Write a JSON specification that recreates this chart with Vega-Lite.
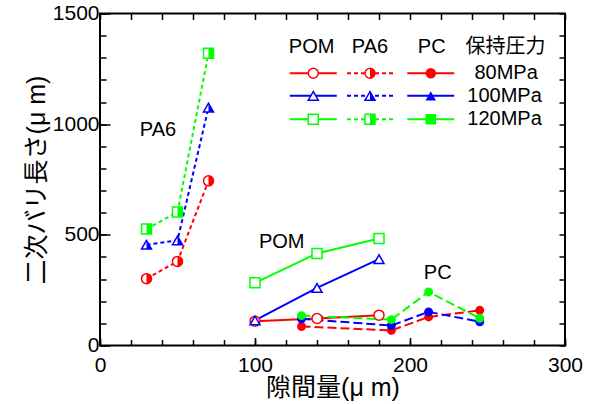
{
  "$schema": "https://vega.github.io/schema/vega-lite/v6.json",
  "width": 465,
  "height": 332,
  "autosize": {"type": "none"},
  "padding": {"left": 100, "top": 13.5, "right": 26, "bottom": 58.5},
  "background": "white",
  "config": {
    "view": {"stroke": "black", "strokeWidth": 2},
    "axis": {"domain": false, "grid": false, "tickColor": "black", "tickWidth": 1.5, "labelColor": "black", "titleColor": "black", "labelFlush": false, "labelOverlap": false}
  },
  "datasets": {
    "obs": [
      {"material": "POM", "pressure": "80MPa", "x": 100, "y": 110},
      {"material": "POM", "pressure": "80MPa", "x": 140, "y": 122},
      {"material": "POM", "pressure": "80MPa", "x": 180, "y": 137},
      {"material": "POM", "pressure": "100MPa", "x": 100, "y": 113},
      {"material": "POM", "pressure": "100MPa", "x": 140, "y": 260},
      {"material": "POM", "pressure": "100MPa", "x": 180, "y": 390},
      {"material": "POM", "pressure": "120MPa", "x": 100, "y": 283},
      {"material": "POM", "pressure": "120MPa", "x": 140, "y": 416},
      {"material": "POM", "pressure": "120MPa", "x": 180, "y": 483},
      {"material": "PA6", "pressure": "80MPa", "x": 30, "y": 302},
      {"material": "PA6", "pressure": "80MPa", "x": 50, "y": 380},
      {"material": "PA6", "pressure": "80MPa", "x": 70, "y": 744},
      {"material": "PA6", "pressure": "100MPa", "x": 30, "y": 455},
      {"material": "PA6", "pressure": "100MPa", "x": 50, "y": 475},
      {"material": "PA6", "pressure": "100MPa", "x": 70, "y": 1075},
      {"material": "PA6", "pressure": "120MPa", "x": 30, "y": 526},
      {"material": "PA6", "pressure": "120MPa", "x": 50, "y": 603},
      {"material": "PA6", "pressure": "120MPa", "x": 70, "y": 1320},
      {"material": "PC", "pressure": "80MPa", "x": 130, "y": 86},
      {"material": "PC", "pressure": "80MPa", "x": 188, "y": 68},
      {"material": "PC", "pressure": "80MPa", "x": 212, "y": 129},
      {"material": "PC", "pressure": "80MPa", "x": 245, "y": 159},
      {"material": "PC", "pressure": "100MPa", "x": 130, "y": 121},
      {"material": "PC", "pressure": "100MPa", "x": 188, "y": 90},
      {"material": "PC", "pressure": "100MPa", "x": 212, "y": 152},
      {"material": "PC", "pressure": "100MPa", "x": 245, "y": 107},
      {"material": "PC", "pressure": "120MPa", "x": 130, "y": 135},
      {"material": "PC", "pressure": "120MPa", "x": 188, "y": 117},
      {"material": "PC", "pressure": "120MPa", "x": 212, "y": 242},
      {"material": "PC", "pressure": "120MPa", "x": 245, "y": 123}
    ],
    "key": [
      {"material": "POM", "pressure": "80MPa", "x": 137.6, "y": 1230},
      {"material": "POM", "pressure": "100MPa", "x": 137.6, "y": 1128},
      {"material": "POM", "pressure": "120MPa", "x": 137.6, "y": 1022},
      {"material": "PA6", "pressure": "80MPa", "x": 174.2, "y": 1230},
      {"material": "PA6", "pressure": "100MPa", "x": 174.2, "y": 1128},
      {"material": "PA6", "pressure": "120MPa", "x": 174.2, "y": 1022},
      {"material": "PC", "pressure": "80MPa", "x": 213.4, "y": 1230},
      {"material": "PC", "pressure": "100MPa", "x": 213.4, "y": 1128},
      {"material": "PC", "pressure": "120MPa", "x": 213.4, "y": 1022}
    ],
    "labels": [
      {"text": "POM", "x": 136.5, "y": 1350},
      {"text": "PA6", "x": 174.2, "y": 1350},
      {"text": "PC", "x": 214, "y": 1350},
      {"text": "保持圧力", "x": 261.6, "y": 1350},
      {"text": "80MPa", "x": 262, "y": 1230},
      {"text": "100MPa", "x": 261, "y": 1128},
      {"text": "120MPa", "x": 261, "y": 1022},
      {"text": "PA6", "x": 37.4, "y": 974},
      {"text": "POM", "x": 117.2, "y": 469},
      {"text": "PC", "x": 217.9, "y": 326}
    ]
  },
  "resolve": {"axis": {"x": "independent", "y": "independent"}},
  "layer": [
    {
      "data": {"name": "obs"},
      "mark": {"type": "point", "opacity": 0},
      "encoding": {
        "x": {"field": "x", "type": "quantitative", "scale": {"domain": [0, 300], "nice": false, "zero": false},
          "axis": {"orient": "bottom", "values": [0, 100, 200, 300], "format": "d", "tickSize": -8, "labelFont": "Liberation Sans", "labelFontSize": 21, "labelPadding": 17,
            "title": "隙間量(μ m)", "titleFont": "Liberation Sans, Noto Sans CJK JP", "titleFontSize": 25, "titleFontWeight": "normal", "titlePadding": 0}},
        "y": {"field": "y", "type": "quantitative", "scale": {"domain": [0, 1500], "nice": false, "zero": false},
          "axis": {"orient": "left", "values": [0, 500, 1000, 1500], "format": "d", "tickSize": -10, "labelFont": "Liberation Sans", "labelFontSize": 21, "labelPadding": 11,
            "title": "二次バリ長さ(μ m)", "titleFont": "Liberation Sans, Noto Sans CJK JP", "titleFontSize": 25, "titleFontWeight": "normal", "titlePadding": 3}}
      }
    },
    {
      "data": {"name": "obs"},
      "mark": {"type": "point", "opacity": 0},
      "encoding": {
        "x": {"field": "x", "type": "quantitative", "axis": {"orient": "bottom", "values": [0, 20, 40, 60, 80, 100, 120, 140, 160, 180, 200, 220, 240, 260, 280, 300], "tickSize": -6, "labels": false, "title": null}},
        "y": {"field": "y", "type": "quantitative", "axis": {"orient": "left", "values": [0, 100, 200, 300, 400, 500, 600, 700, 800, 900, 1000, 1100, 1200, 1300, 1400, 1500], "tickSize": -6, "labels": false, "title": null}}
      }
    },
    {
      "data": {"name": "obs"},
      "mark": {"type": "point", "opacity": 0},
      "encoding": {
        "x": {"field": "x", "type": "quantitative", "axis": {"orient": "top", "values": [0, 20, 40, 60, 80, 100, 120, 140, 160, 180, 200, 220, 240, 260, 280, 300], "tickSize": -6, "labels": false, "title": null}},
        "y": {"field": "y", "type": "quantitative", "axis": {"orient": "right", "values": [0, 100, 200, 300, 400, 500, 600, 700, 800, 900, 1000, 1100, 1200, 1300, 1400, 1500], "tickSize": -6, "labels": false, "title": null}}
      }
    },
    {
      "resolve": {"scale": {"shape": "independent"}},
      "encoding": {
        "x": {"field": "x", "type": "quantitative", "axis": null},
        "y": {"field": "y", "type": "quantitative", "axis": null}
      },
      "layer": [
        {
          "data": {"name": "obs"},
          "transform": [{"filter": "datum.material === 'POM'"}],
          "mark": {"type": "line", "strokeWidth": 2},
          "encoding": {"color": {"field": "pressure", "type": "nominal", "scale": {"domain": ["80MPa", "100MPa", "120MPa"], "range": ["#ff0000", "#0000ff", "#00ff00"]}, "legend": null}}
        },
        {
          "data": {"name": "obs"},
          "transform": [{"filter": "datum.material === 'PA6'"}],
          "mark": {"type": "line", "strokeWidth": 2, "strokeDash": [4, 3]},
          "encoding": {"color": {"field": "pressure", "type": "nominal", "legend": null}}
        },
        {
          "data": {"name": "obs"},
          "transform": [{"filter": "datum.material === 'PC'"}],
          "mark": {"type": "line", "strokeWidth": 2, "strokeDash": [9, 4]},
          "encoding": {"color": {"field": "pressure", "type": "nominal", "legend": null}}
        },
        {
          "data": {"name": "key"},
          "transform": [{"filter": "datum.material !== 'PA6'"}],
          "mark": {"type": "rule", "strokeWidth": 2, "xOffset": -23.5, "x2Offset": 23.5},
          "encoding": {"x2": {"field": "x"}, "color": {"field": "pressure", "type": "nominal", "legend": null}}
        },
        {
          "data": {"name": "key"},
          "transform": [{"filter": "datum.material === 'PA6'"}],
          "mark": {"type": "rule", "strokeWidth": 2, "strokeDash": [4, 3], "xOffset": -23, "x2Offset": 23},
          "encoding": {"x2": {"field": "x"}, "color": {"field": "pressure", "type": "nominal", "legend": null}}
        },
        {
          "data": {"name": "obs"},
          "transform": [{"filter": "datum.material !== 'PC'"}],
          "mark": {"type": "point", "filled": true, "fill": "white", "strokeWidth": 1.5, "size": 100, "opacity": 1},
          "encoding": {
            "stroke": {"field": "pressure", "type": "nominal", "scale": {"domain": ["80MPa", "100MPa", "120MPa"], "range": ["#ff0000", "#0000ff", "#00ff00"]}, "legend": null},
            "shape": {"field": "pressure", "type": "nominal", "scale": {"domain": ["80MPa", "100MPa", "120MPa"], "range": ["circle", "triangle-up", "square"]}, "legend": null}
          }
        },
        {
          "data": {"name": "key"},
          "transform": [{"filter": "datum.material !== 'PC'"}],
          "mark": {"type": "point", "filled": true, "fill": "white", "strokeWidth": 1.5, "size": 100, "opacity": 1},
          "encoding": {
            "stroke": {"field": "pressure", "type": "nominal", "legend": null},
            "shape": {"field": "pressure", "type": "nominal", "scale": {"domain": ["80MPa", "100MPa", "120MPa"], "range": ["circle", "triangle-up", "square"]}, "legend": null}
          }
        },
        {
          "data": {"name": "obs"},
          "transform": [{"filter": "datum.material === 'PA6'"}],
          "mark": {"type": "point", "filled": true, "size": 100, "opacity": 1},
          "encoding": {
            "color": {"field": "pressure", "type": "nominal", "legend": null},
            "shape": {"field": "pressure", "type": "nominal", "scale": {"domain": ["80MPa", "100MPa", "120MPa"], "range": ["M0,-1A1,1 0 0,1 0,1Z", "M0,-0.866L1,0.866L0,0.866Z", "M0,-1L1,-1L1,1L0,1Z"]}, "legend": null}
          }
        },
        {
          "data": {"name": "key"},
          "transform": [{"filter": "datum.material === 'PA6'"}],
          "mark": {"type": "point", "filled": true, "size": 100, "opacity": 1},
          "encoding": {
            "color": {"field": "pressure", "type": "nominal", "legend": null},
            "shape": {"field": "pressure", "type": "nominal", "scale": {"domain": ["80MPa", "100MPa", "120MPa"], "range": ["M0,-1A1,1 0 0,1 0,1Z", "M0,-0.866L1,0.866L0,0.866Z", "M0,-1L1,-1L1,1L0,1Z"]}, "legend": null}
          }
        },
        {
          "data": {"name": "obs"},
          "transform": [{"filter": "datum.material === 'PC'"}],
          "mark": {"type": "point", "filled": true, "size": 80, "opacity": 1},
          "encoding": {
            "color": {"field": "pressure", "type": "nominal", "legend": null},
            "shape": {"field": "pressure", "type": "nominal", "scale": {"domain": ["80MPa", "100MPa", "120MPa"], "range": ["circle", "circle", "circle"]}, "legend": null}
          }
        },
        {
          "data": {"name": "key"},
          "transform": [{"filter": "datum.material === 'PC'"}],
          "mark": {"type": "point", "filled": true, "size": 110, "opacity": 1},
          "encoding": {
            "color": {"field": "pressure", "type": "nominal", "legend": null},
            "shape": {"field": "pressure", "type": "nominal", "scale": {"domain": ["80MPa", "100MPa", "120MPa"], "range": ["circle", "triangle-up", "square"]}, "legend": null}
          }
        },
        {
          "data": {"name": "labels"},
          "mark": {"type": "text", "font": "Liberation Sans, Noto Sans CJK JP", "fontSize": 20, "align": "center", "baseline": "middle", "color": "black"},
          "encoding": {"text": {"field": "text", "type": "nominal"}}
        }
      ]
    }
  ]
}
